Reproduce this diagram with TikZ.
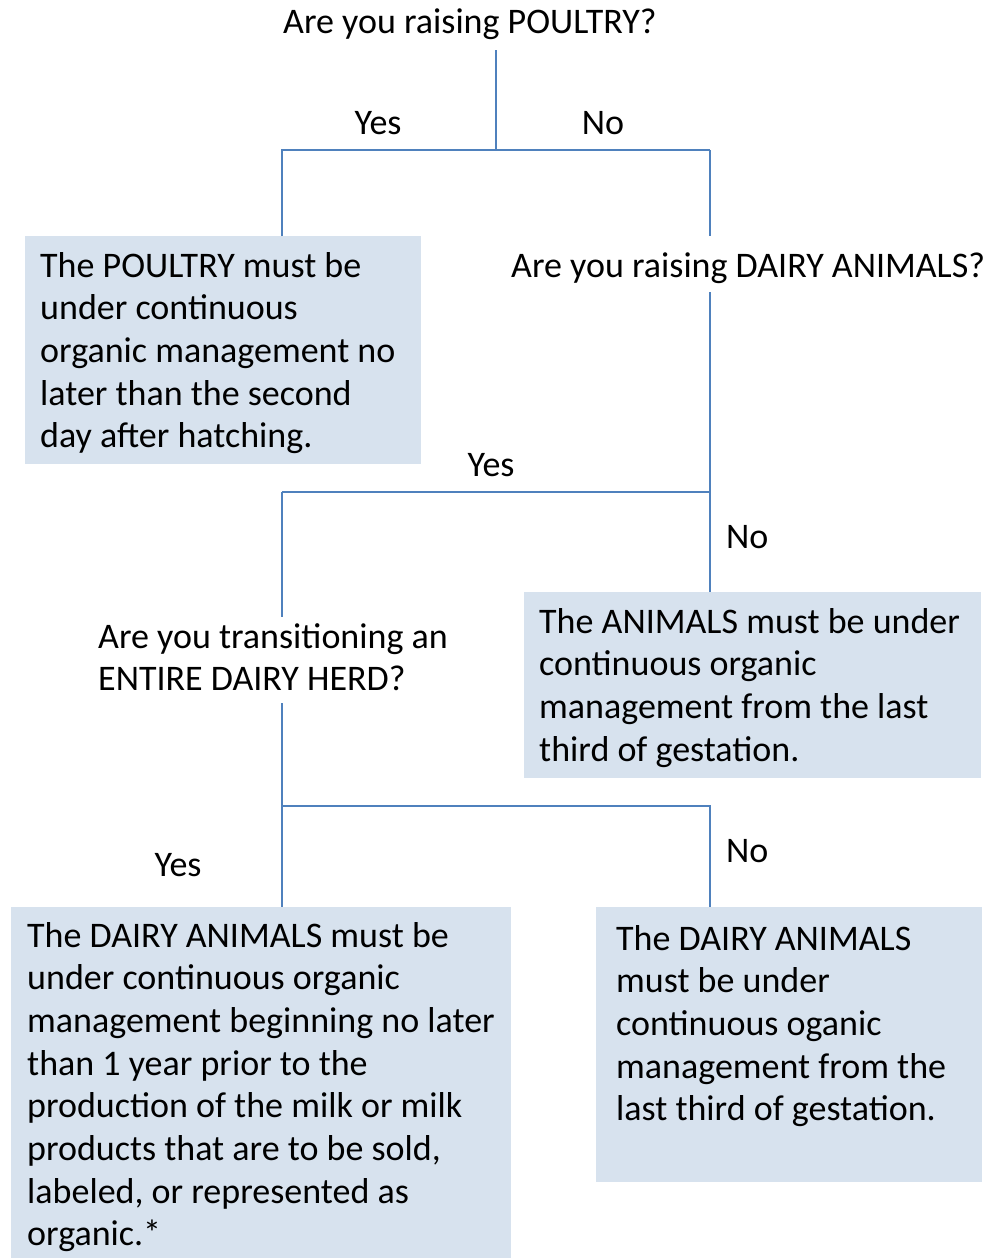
\documentclass[tikz,border=0pt]{standalone}
\usepackage{fontspec}
\setmainfont{Carlito}
\definecolor{lineblue}{HTML}{4F81BD}
\definecolor{boxfill}{HTML}{D7E2EE}
\begin{document}
\begin{tikzpicture}[x=1pt,y=-1pt,
  conn/.style={draw=lineblue,line width=1.6pt},
  box/.style={fill=boxfill,draw=none,inner sep=0pt,outer sep=0pt,anchor=north west},
  txt/.style={font=\fontsize{36}{42.7}\selectfont,align=left,inner sep=0pt,anchor=base west},
  ques/.style={font=\fontsize{36}{42.7}\selectfont,inner sep=0pt,anchor=base west},
  lbl/.style={font=\fontsize{36}{42.7}\selectfont,inner sep=0pt,anchor=base}]
\useasboundingbox (0,0) rectangle (992,1258);
% answer boxes
\node[box,minimum width=396pt,minimum height=228pt] (b1) at (25,236) {};
\node[box,minimum width=457pt,minimum height=186pt] (b2) at (524,592) {};
\node[box,minimum width=500pt,minimum height=351pt] (b3) at (11,907) {};
\node[box,minimum width=386pt,minimum height=275pt] (b4) at (596,907) {};
% box texts (anchored at the baseline of their last line)
\node[txt] (t1) at (40,447.8) {The POULTRY must be\\under continuous\\organic management no\\later than the second\\day after hatching.};
\node[txt] (t2) at (539,761.1) {The ANIMALS must be under\\continuous organic\\management from the last\\third of gestation.};
\node[txt] (t3) at (27,1245.9) {The DAIRY ANIMALS must be\\under continuous organic\\management beginning no later\\than 1 year prior to the\\production of the milk or milk\\products that are to be sold,\\labeled, or represented as\\organic.*};
\node[txt] (t4) at (616,1120.8) {The DAIRY ANIMALS\\must be under\\continuous oganic\\management from the\\last third of gestation.};
% questions
\node[ques,text height=26pt,text depth=9pt] (q1) at (283,33) {Are you raising POULTRY?};
\node[ques,text height=26pt,text depth=9pt] (q2) at (511,277) {Are you raising DAIRY ANIMALS?};
\node[txt] (q3) at (98,690.7) {Are you transitioning an\\ENTIRE DAIRY HERD?};
% junctions
\coordinate (j1) at (496,150);
\coordinate (jl1) at (282,150);
\coordinate (jr1) at (710,150);
\coordinate (j2) at (710,492);
\coordinate (jl2) at (282,492);
\coordinate (j3) at (282,806);
\coordinate (jr3) at (710,806);
% connectors
\draw[conn,shorten <=8pt] (q1.south -| j1) -- (j1);
\draw[conn] (b1.north -| jl1) -- (jl1) -- (jr1);
\draw[conn,shorten >=15pt] (jr1) -- (q2.north -| jr1);
\draw[conn,shorten <=6pt] (q2.south -| j2) -- (b2.north -| j2);
\draw[conn] (j2) -- (jl2);
\draw[conn,shorten >=6pt] (jl2) -- (q3.north -| jl2);
\draw[conn,shorten <=12pt] (q3.south -| j3) -- (b3.north -| j3);
\draw[conn] (j3) -- (jr3) -- (b4.north -| jr3);
% labels
\node[lbl] (y1) at (378,134) {Yes};
\node[lbl] (n1) at (603,134) {No};
\node[lbl] (y2) at (491,476) {Yes};
\node[lbl,anchor=base west] (n2) at (726,548) {No};
\node[lbl] (y3) at (178,876) {Yes};
\node[lbl,anchor=base west] (n3) at (726,862) {No};
\end{tikzpicture}
\end{document}
